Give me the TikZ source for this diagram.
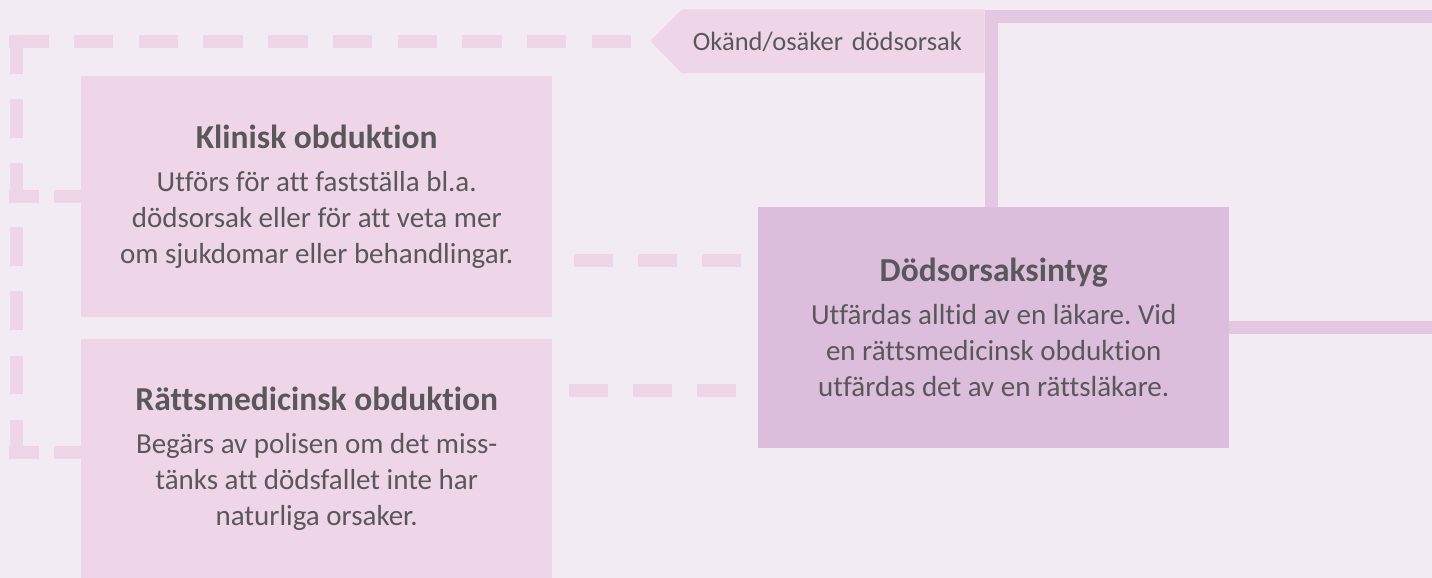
\documentclass[tikz,border=0pt]{standalone}
\usepackage{fontspec}
\setmainfont[RawFeature={-liga;-clig;-dlig}]{Carlito}
\frenchspacing
\usetikzlibrary{calc}
\definecolor{bgc}{HTML}{F3EBF4}
\definecolor{boxc}{HTML}{EFD5E8}
\definecolor{dodc}{HTML}{DCBEDC}
\definecolor{linec}{HTML}{E4C8E1}
\definecolor{txtc}{HTML}{58585A}
\pgfdeclarelayer{bglayer}
\pgfdeclarelayer{lineslayer}
\pgfdeclarelayer{labfill}
\pgfsetlayers{bglayer,lineslayer,labfill,main}
\newcommand{\bodyfnt}{\fontsize{29}{36}\selectfont}
\newcommand{\labfnt}{\fontsize{26.5}{36}\selectfont}
\newcommand{\titlefnt}{\fontsize{33.5}{36}\selectfont\bfseries}
\begin{document}
\begin{tikzpicture}[x=1pt,y=-1pt,
  infobox/.style={fill=boxc, inner sep=0pt, text=txtc, align=center,
    font=\bodyfnt, anchor=north west, minimum width=471pt},
  dsh/.style={draw=boxc, line width=13pt, line cap=butt},
  solidconn/.style={draw=linec, line width=13pt, line cap=butt, line join=miter}]
\begin{pgfonlayer}{bglayer}
\fill[bgc] (0,0) rectangle (1432,578);
\end{pgfonlayer}
\useasboundingbox (0,0) rectangle (1432,578);

\node[infobox, minimum height=241pt] (kl) at (81,76)
  {{\titlefnt Klinisk obduktion}\\[6.2pt]
   Utförs för att fastställa bl.a.\\
   dödsorsak eller för att veta mer\\
   om sjukdomar eller behandlingar.};
\node[infobox, minimum height=239pt] (rm) at (81,339)
  {{\titlefnt Rättsmedicinsk obduktion}\\[6.2pt]
   Begärs av polisen om det miss-\\
   tänks att dödsfallet inte har\\
   naturliga orsaker.};
\node[infobox, fill=dodc, minimum height=241pt] (dod) at (758,206.7)
  {{\titlefnt Dödsorsaksintyg}\\[6.2pt]
   Utfärdas alltid av en läkare. Vid\\
   en rättsmedicinsk obduktion\\
   utfärdas det av en rättsläkare.};

\node[anchor=north west, inner xsep=10.7pt, inner ysep=0pt,
      text width=280.9pt, align=left, minimum height=63.4pt,
      text height=18pt, text depth=0pt, text=txtc, font=\labfnt]
  (lab) at (682,9.3) {Okänd/osäker dödsorsak};
\coordinate (labtip) at ($(lab.west)+(-31.7,0)$);
\begin{pgfonlayer}{labfill}
\fill[boxc] (lab.north west) -- (lab.north east) -- (lab.south east)
  -- (lab.south west) -- (labtip) -- cycle;
\end{pgfonlayer}

\coordinate (tl) at (labtip -| 9.3,0);
\coordinate (vtop) at (16,35);
\coordinate (vbot) at (16,459);
\coordinate (klfoot) at (kl.west -| 9.3,0);
\coordinate (rmw) at ($(rm.west)+(0,-6)$);
\coordinate (rmfoot) at (rmw -| 9.3,0);
\coordinate (c1) at ($(kl.east)+(0,64)$);
\coordinate (c2) at ($(rm.north east)+(0,51.5)$);
\coordinate (tr) at (1432,16.5);

\begin{pgfonlayer}{lineslayer}
\draw[dsh, dash pattern=on 39.4pt off 25.3pt] (tl) -- (labtip);
\draw[dsh, dash pattern=on 38.6pt off 25.5pt] (vtop) -- (vbot);
\draw[dsh, dash pattern=on 29.4pt off 15.3pt on 60pt off 10pt] (klfoot) -- (kl.west);
\draw[dsh, dash pattern=on 29.4pt off 15.3pt on 60pt off 10pt] (rmfoot) -- (rmw);
\draw[dsh, dash pattern=on 39pt off 25pt, dash phase=42pt] (c1) -- (c1 -| dod.west);
\draw[dsh, dash pattern=on 39pt off 25pt, dash phase=47pt] (c2) -- (c2 -| dod.west);
\draw[solidconn] ([xshift=-2.7pt]dod.north) |- (tr);
\draw[solidconn] (dod.east) -- (dod.east -| tr);
\end{pgfonlayer}
\end{tikzpicture}
\end{document}
